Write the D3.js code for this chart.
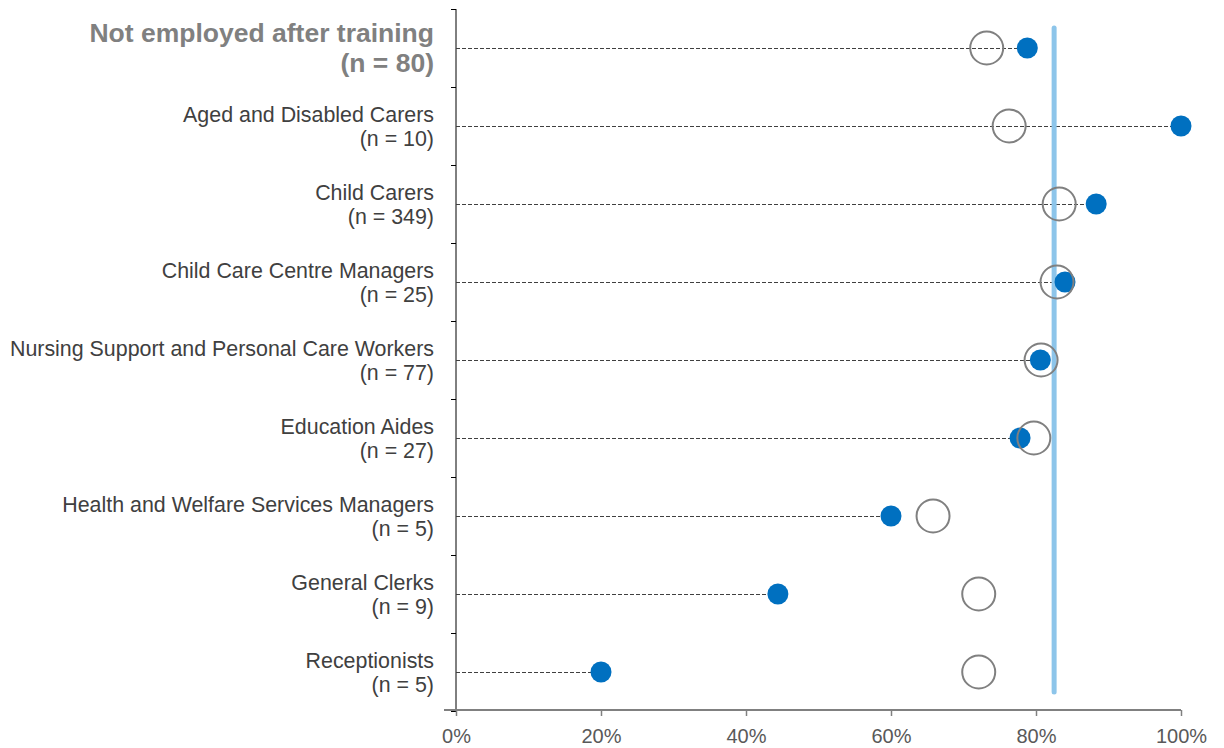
<!DOCTYPE html>
<html lang="en">
    <head>
        <meta charset="UTF-8" />
        <title>Employment rate by occupation</title>
        <script src="https://d3js.org/d3.v7.min.js"></script>
        <style>
            body {
                margin: 0;
                background: #fff;
                font-family: "Liberation Sans", Arial, sans-serif;
            }
            .cat text {
                font-size: 21.4px;
                fill: #404040;
            }
            .cat.head text {
                font-size: 26.5px;
                font-weight: bold;
                fill: #808080;
            }
            .xaxis text {
                font-size: 20px;
                fill: #595959;
            }
        </style>
    </head>
    <body>
        <svg width="1224" height="748"></svg>

        <script>
            const categories = [
                "Not employed after training",
                "Aged and Disabled Carers",
                "Child Carers",
                "Child Care Centre Managers",
                "Nursing Support and Personal Care Workers",
                "Education Aides",
                "Health and Welfare Services Managers",
                "General Clerks",
                "Receptionists",
            ];
            const sampleSizes = [80, 10, 349, 25, 77, 27, 5, 9, 5];
            // filled blue dots
            const actual = [78.8, 100, 88.3, 84.0, 80.6, 77.8, 60.0, 44.4, 20.0];
            // open grey circles
            const expected = [73.2, 76.3, 83.2, 82.9, 80.7, 79.7, 65.8, 72.1, 72.1];
            const overall = 82.5;
            const xTicks = [0, 20, 40, 60, 80, 100];

            const svg = d3.select("svg");

            const x = d3.scaleLinear().domain([0, 100]).range([456, 1181]);
            const y = d3
                .scaleBand()
                .domain(categories)
                .range([9, 711]);
            const cy = (c) => y(c) + y.bandwidth() / 2;

            // y axis line + ticks at band edges
            const yAxis = svg.append("g");
            yAxis
                .append("line")
                .attr("x1", x(0))
                .attr("x2", x(0))
                .attr("y1", y.range()[0])
                .attr("y2", y.range()[1])
                .attr("stroke", "#000")
                .attr("stroke-width", 1);
            const edges = categories.map((c) => y(c)).concat([y.range()[1]]);
            yAxis
                .selectAll("line.tk")
                .data(edges)
                .enter()
                .append("line")
                .attr("class", "tk")
                .attr("x1", x(0) - 5)
                .attr("x2", x(0))
                .attr("y1", (d) => Math.round(d) + 0.5)
                .attr("y2", (d) => Math.round(d) + 0.5)
                .attr("stroke", "#000");

            // x axis
            const xAxis = svg
                .append("g")
                .attr("class", "xaxis")
                .attr("transform", "translate(0,710)")
                .call(
                    d3
                        .axisBottom(x)
                        .tickValues(xTicks)
                        .tickSize(6)
                        .tickPadding(13)
                        .tickFormat((d) => d + "%")
                );
            xAxis.select(".domain").attr("stroke", "#808080").attr("stroke-width", 2)
                .attr("d", `M${x(0) - 12},0H${x(100)}`);
            xAxis.selectAll(".tick line").attr("stroke", "#808080").attr("stroke-width", 1.5);
            xAxis.selectAll(".tick text").attr("font-family", "Liberation Sans, Arial, sans-serif");

            // dashed leader lines to the filled dots
            svg.append("g")
                .selectAll("line")
                .data(categories)
                .enter()
                .append("line")
                .attr("x1", x(0))
                .attr("x2", (d, i) => x(actual[i]))
                .attr("y1", (d) => cy(d) + 0.5)
                .attr("y2", (d) => cy(d) + 0.5)
                .attr("stroke", "#404040")
                .attr("stroke-width", 1)
                .attr("stroke-dasharray", "4,2");

            // overall average line
            svg.append("line")
                .attr("x1", x(overall))
                .attr("x2", x(overall))
                .attr("y1", 28)
                .attr("y2", 692)
                .attr("stroke", "#8DC5EA")
                .attr("stroke-width", 5)
                .attr("stroke-linecap", "round");

            // filled dots
            svg.append("g")
                .selectAll("circle")
                .data(categories)
                .enter()
                .append("circle")
                .attr("cx", (d, i) => x(actual[i]))
                .attr("cy", (d) => cy(d))
                .attr("r", 10.5)
                .attr("fill", "#0070C0");

            // open circles
            svg.append("g")
                .selectAll("circle")
                .data(categories)
                .enter()
                .append("circle")
                .attr("cx", (d, i) => x(expected[i]))
                .attr("cy", (d) => cy(d))
                .attr("r", 16.5)
                .attr("fill", "none")
                .attr("stroke", "#808080")
                .attr("stroke-width", 2);

            // category labels
            const lab = svg
                .append("g")
                .selectAll("g")
                .data(categories)
                .enter()
                .append("g")
                .attr("class", (d, i) => (i === 0 ? "cat head" : "cat"))
                .attr("text-anchor", "end");
            lab.append("text")
                .attr("x", 434)
                .attr("y", (d, i) => cy(d) + (i === 0 ? -6 : -4))
                .text((d) => d);
            lab.append("text")
                .attr("x", 434)
                .attr("y", (d, i) => cy(d) + (i === 0 ? 24 : 20))
                .text((d, i) => `(n = ${sampleSizes[i]})`);
        </script>
    </body>
</html>
